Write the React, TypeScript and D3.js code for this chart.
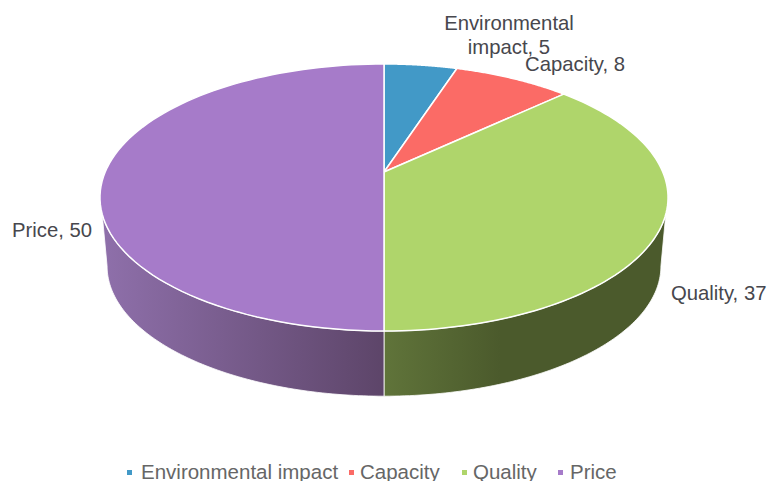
import React from "react";
import * as d3 from "d3";

// Chart content
const categories = ["Environmental impact", "Capacity", "Quality", "Price"];
const values = [5, 8, 37, 50];
const dataLabelLines = [["Environmental", "impact, 5"], ["Capacity, 8"], ["Quality, 37"], ["Price, 50"]];

// Styling
const sliceColors = ["#4299c7", "#fb6b66", "#afd56b", "#a67bc9"];
const wallStops: [number, string][][] = [
  [],
  [],
  [[0, "#60743a"], [0.41, "#4b5a2c"], [1, "#4b5a2c"]],
  [[0, "#8f70ab"], [1, "#5d4569"]],
];
const labelAnchors = [
  { x: 509, y: 30, dy: 24, anchor: "middle" },
  { x: 525, y: 71, dy: 0, anchor: "start" },
  { x: 671, y: 300, dy: 0, anchor: "start" },
  { x: 12, y: 237, dy: 0, anchor: "start" },
];
const legendSwatchX = [127, 349, 462, 558];
const legendTextX = [141, 360, 473, 570];

const WIDTH = 771;
const HEIGHT = 481;
const FONT = "'Liberation Sans', Arial, sans-serif";

// Perspective projection of the unit disc onto the tilted pie face.
const CX = 384;
const APEX_Y = 172;
const TILT = -0.191;
const DEPTH_Y = 95.8;
const SPREAD_X = 278.8;
const projectTop = (t: number, r = 1): [number, number] => {
  const u = -Math.cos(t) * r;
  const v = Math.sin(t) * r;
  const w = 1 + TILT * u;
  return [CX + (SPREAD_X * v) / w, (APEX_Y + DEPTH_Y * u) / w];
};

// The lower rim is a slightly smaller copy of the top rim, pushed down.
const RIM_CY = 197.5;
const LOWER_CY = 266;
const LOWER_SCALE = 0.975;
const projectLower = (t: number): [number, number] => {
  const [x, y] = projectTop(t);
  return [CX + (x - CX) * LOWER_SCALE, LOWER_CY + (y - RIM_CY) * LOWER_SCALE];
};

const toRad = (deg: number) => (deg * Math.PI) / 180;
const WALL_FROM = toRad(108);
const WALL_TO = toRad(252);
const LOWER_FROM = toRad(101);
const LOWER_TO = toRad(259);

const sweep = (a: number, b: number, n = 90) =>
  d3.range(n + 1).map((i) => a + ((b - a) * i) / n);

const line = d3.line<[number, number]>();

export default function App() {
  const arcs = d3.pie<number>().sort(null)(values);

  const faces = arcs.map((a) => {
    const rim = sweep(a.startAngle, a.endAngle).map((t) => projectTop(t));
    return line([[CX, APEX_Y], ...rim]) + "Z";
  });

  const walls = arcs.map((a) => {
    const from = Math.max(a.startAngle, WALL_FROM);
    const to = Math.min(a.endAngle, WALL_TO);
    if (to <= from) return null;
    const lowFrom = from === WALL_FROM ? LOWER_FROM : from;
    const lowTo = to === WALL_TO ? LOWER_TO : to;
    const upper = sweep(from, to).map((t) => projectTop(t));
    const lower = sweep(lowTo, lowFrom).map((t) => projectLower(t));
    return line([...upper, ...lower]) + "Z";
  });

  const wallSpanX = d3
    .scaleLinear()
    .domain([-1, 1])
    .range([CX - 284, CX + 284]);

  return (
    <svg
      width={WIDTH}
      height={HEIGHT}
      viewBox={`0 0 ${WIDTH} ${HEIGHT}`}
      style={{ position: "absolute", left: 0, top: 0, display: "block" }}
    >
      <defs>
        {/* Quality's wall darkens left to right over its own span, as does Price's */}
        <linearGradient
          id="wall-2"
          gradientUnits="userSpaceOnUse"
          x1={wallSpanX(0)}
          x2={wallSpanX(1)}
          y1={0}
          y2={0}
        >
          {wallStops[2].map(([o, c]) => (
            <stop key={o} offset={o} stopColor={c} />
          ))}
        </linearGradient>
        <linearGradient
          id="wall-3"
          gradientUnits="userSpaceOnUse"
          x1={wallSpanX(-1)}
          x2={wallSpanX(0)}
          y1={0}
          y2={0}
        >
          {wallStops[3].map(([o, c]) => (
            <stop key={o} offset={o} stopColor={c} />
          ))}
        </linearGradient>
      </defs>

      <rect width={WIDTH} height={HEIGHT} fill="#ffffff" />

      {walls.map((d, i) =>
        d ? (
          <path key={i} d={d} fill={`url(#wall-${i})`} stroke="#ffffff" strokeOpacity={0.8} strokeWidth={1} />
        ) : null
      )}
      {faces.map((d, i) => (
        <path key={i} d={d} fill={sliceColors[i]} stroke="#ffffff" strokeWidth={1.5} strokeLinejoin="round" />
      ))}

      {dataLabelLines.map((lines, i) => (
        <text
          key={i}
          x={labelAnchors[i].x}
          y={labelAnchors[i].y}
          textAnchor={labelAnchors[i].anchor}
          fontFamily={FONT}
          fontSize={20.3}
          fill="#47474d"
        >
          {lines.map((l, j) => (
            <tspan key={j} x={labelAnchors[i].x} dy={j === 0 ? 0 : labelAnchors[i].dy}>
              {l}
            </tspan>
          ))}
        </text>
      ))}

      {categories.map((c, i) => (
        <g key={c}>
          <rect x={legendSwatchX[i]} y={470} width={5} height={5} fill={sliceColors[i]} />
          <text x={legendTextX[i]} y={479} fontFamily={FONT} fontSize={20.5} fill="#666666">
            {c}
          </text>
        </g>
      ))}
    </svg>
  );
}
